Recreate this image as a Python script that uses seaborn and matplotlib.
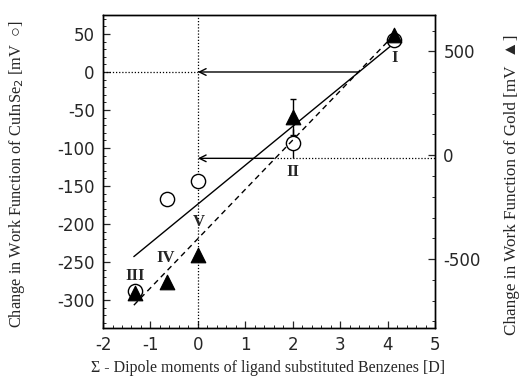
import matplotlib
matplotlib.use("Agg")
import matplotlib.pyplot as plt
import seaborn as sns
import pandas as pd
import numpy as np
from matplotlib.ticker import MultipleLocator

# ---- data ----
dipole_circles = [4.13, 2.0, 0.0, -0.65, -1.33]
cuinse2_mV = [42, -94, -144, -167, -288]
cuinse2_err = [0, 19, 0, 0, 0]

dipole_tri = [4.13, 2.0, 0.0, -0.65, -1.33]
gold_mV = [578, 183, -482, -610, -663]
gold_err = [0, 88, 0, 0, 0]

point_labels = ["I", "II", "V", "IV", "III"]
label_x = [4.15, 2.0, 0.02, -0.67, -1.32]
label_y_left = [18, -132, -198, -245, -268]

fit_cuinse2_x = [-1.35, 4.08]
fit_cuinse2_y = [-243, 35]
fit_gold_x = [-1.35, 4.08]
fit_gold_y = [-722, 566]

arrow_upper = dict(x_from=3.39, x_to=0.0, y_left=0)
arrow_lower = dict(x_from=1.6, x_to=0.0, y_right=-15)

x_ticks = [-2, -1, 0, 1, 2, 3, 4, 5]
left_ticks = [50, 0, -50, -100, -150, -200, -250, -300]
right_ticks = [500, 0, -500]

sns.set_theme(style="ticks")
plt.rcParams["axes.unicode_minus"] = False
plt.rcParams["font.family"] = ["DejaVu Sans"]

fig = plt.figure(figsize=(5.24, 3.85), dpi=100)
ax1 = fig.add_axes([0.1966, 0.148, 0.6336, 0.813])
ax2 = ax1.twinx()

serif = ["Liberation Serif", "DejaVu Serif"]

df_c = pd.DataFrame({"x": dipole_circles, "y": cuinse2_mV})
df_t = pd.DataFrame({"x": dipole_tri, "y": gold_mV})
df_fc = pd.DataFrame({"x": fit_cuinse2_x, "y": fit_cuinse2_y})
df_fg = pd.DataFrame({"x": fit_gold_x, "y": fit_gold_y})

# fits
sns.lineplot(data=df_fc, x="x", y="y", ax=ax1, color="black", lw=1.0)
sns.lineplot(data=df_fg, x="x", y="y", ax=ax2, color="black", lw=1.0, linestyle=(0, (4, 3)))

# error bars
ax1.errorbar(dipole_circles, cuinse2_mV, yerr=cuinse2_err, fmt="none", ecolor="black", elinewidth=1, capsize=0)
ax2.errorbar(dipole_tri, gold_mV, yerr=gold_err, fmt="none", ecolor="black", elinewidth=1, capsize=2)

# markers
sns.scatterplot(data=df_c, x="x", y="y", ax=ax1, marker="o", s=105, facecolor="white",
                edgecolor="black", linewidth=1.0, zorder=5)
sns.scatterplot(data=df_t, x="x", y="y", ax=ax2, marker="^", s=110, color="black",
                edgecolor="black", zorder=6)

# reference lines
ax1.axvline(0, color="black", lw=0.9, linestyle=(0, (1, 1.5)))
ax1.plot([-2, 0], [0, 0], color="black", lw=0.9, linestyle=(0, (1, 1.5)))
ax2.plot([arrow_lower["x_from"], 5], [arrow_lower["y_right"]] * 2, color="black", lw=0.9,
         linestyle=(0, (1, 1.5)))
ax1.annotate("", xy=(arrow_upper["x_to"], arrow_upper["y_left"]),
             xytext=(arrow_upper["x_from"], arrow_upper["y_left"]),
             arrowprops=dict(arrowstyle="->", color="black", lw=1.0, shrinkA=0, shrinkB=0))
ax2.annotate("", xy=(arrow_lower["x_to"], arrow_lower["y_right"]),
             xytext=(arrow_lower["x_from"], arrow_lower["y_right"]),
             arrowprops=dict(arrowstyle="->", color="black", lw=1.0, shrinkA=0, shrinkB=0))

# point labels
for t, lx, ly in zip(point_labels, label_x, label_y_left):
    ax1.text(lx, ly, t, ha="center", va="center", family=serif, fontweight="bold", fontsize=12)

# axes settings
ax1.set_xlim(-2, 5)
ax1.set_ylim(-337, 75)
ax2.set_ylim(-832, 675)
ax1.set_xticks(x_ticks)
ax1.set_xticklabels([str(v) for v in x_ticks])
ax1.set_yticks(left_ticks)
ax1.set_yticklabels([str(v) for v in left_ticks])
ax2.set_yticks(right_ticks)
ax2.set_yticklabels([str(v) for v in right_ticks])
ax1.xaxis.set_minor_locator(MultipleLocator(0.2))
ax1.yaxis.set_minor_locator(MultipleLocator(10))
ax2.yaxis.set_minor_locator(MultipleLocator(100))

for ax in (ax1, ax2):
    for s in ax.spines.values():
        s.set_visible(True)
        s.set_linewidth(1.0)
        s.set_color("black")
ax1.tick_params(axis="both", which="major", direction="in", length=5, width=0.9, labelsize=12, pad=6)
ax1.tick_params(axis="both", which="minor", direction="in", length=2.5, width=0.7)
ax2.tick_params(axis="y", which="major", direction="in", length=5, width=0.9, labelsize=12, pad=6)
ax2.tick_params(axis="y", which="minor", direction="in", length=2.5, width=0.7)

ax1.set_xlabel("")
ax1.set_ylabel("")
ax2.set_ylabel("")

fig.text(0.512, 0.045, "Σ - Dipole moments of ligand substituted Benzenes [D]", ha="center", va="center",
         family=serif, fontsize=11.5)
fig.text(0.033, 0.548, "Change in Work Function of CuInSe$_2$ [mV  ○]", rotation=90, ha="center",
         va="center", family=serif + ["DejaVu Sans"], fontsize=11.8)
fig.text(0.978, 0.91, "Change in Work Function of Gold [mV  ▲]", rotation=90, ha="center",
         va="top", family=serif + ["DejaVu Sans"], fontsize=12.3)

fig.savefig("out.png", dpi=100)
